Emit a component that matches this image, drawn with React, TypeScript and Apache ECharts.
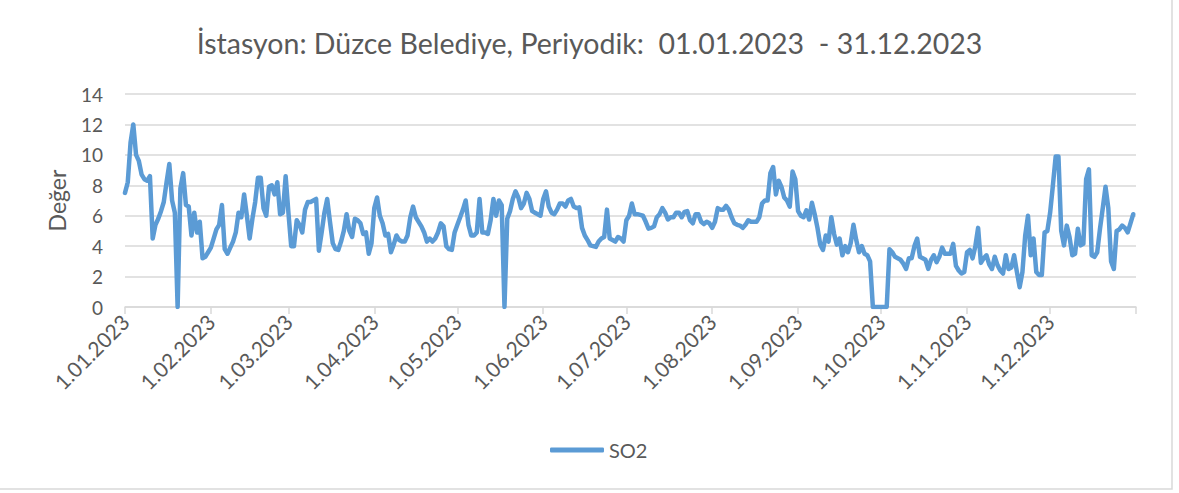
import { useEffect, useRef } from "react";
import * as echarts from "echarts";

const TITLE = "İstasyon: Düzce Belediye, Periyodik:  01.01.2023  - 31.12.2023";
const SERIES_NAME = "SO2";
const Y_NAME = "Değer";
const Y_MIN = 0;
const Y_MAX = 14;
const Y_INTERVAL = 2;

// Daily SO2 values, one array per month
const jan = [7.5, 8.2, 10.8, 12.0, 10.0, 9.6, 8.7, 8.4, 8.3, 8.6, 4.5, 5.4, 5.8, 6.3, 6.9, 8.2, 9.4, 7.0, 6.2, 0, 7.8, 8.8, 6.7, 6.6, 4.7, 6.2, 4.9, 5.6, 3.2, 3.3, 3.6];
const feb = [3.9, 4.5, 5.1, 5.4, 6.7, 3.8, 3.5, 3.9, 4.3, 4.9, 6.2, 5.9, 7.4, 6.0, 4.5, 5.8, 6.9, 8.5, 8.5, 6.5, 6.0, 7.9, 8.0, 7.4, 8.2, 6.1, 6.2, 8.6];
const mar = [6.2, 4.0, 4.0, 5.7, 5.4, 4.9, 6.4, 6.9, 6.9, 7.0, 7.1, 3.7, 4.9, 6.2, 7.1, 5.6, 4.2, 3.8, 3.75, 4.3, 5.0, 6.1, 5.0, 4.6, 5.8, 5.7, 5.5, 4.8, 4.9, 3.5, 4.2];
const apr = [6.5, 7.2, 6.0, 5.5, 4.7, 4.8, 3.6, 4.1, 4.7, 4.4, 4.3, 4.3, 4.7, 5.9, 6.6, 5.9, 5.6, 5.3, 4.9, 4.3, 4.5, 4.3, 4.5, 4.9, 5.5, 5.3, 4.0, 3.8, 3.75, 4.9];
const may = [5.4, 5.9, 6.4, 7.0, 5.4, 4.7, 4.7, 4.9, 7.1, 4.9, 4.9, 4.8, 5.7, 7.1, 6.0, 7.0, 6.7, 0, 5.8, 6.3, 7.1, 7.6, 7.2, 6.5, 6.8, 7.5, 7.1, 6.3, 6.2, 6.1, 6.0];
const jun = [7.1, 7.6, 6.6, 6.2, 6.1, 6.4, 6.8, 6.8, 6.6, 7.0, 7.1, 6.6, 6.5, 6.55, 5.2, 4.7, 4.4, 4.05, 4.0, 3.95, 4.3, 4.5, 4.6, 6.4, 4.5, 4.4, 4.3, 4.6, 4.5, 4.3];
const jul = [5.7, 6.0, 6.8, 6.1, 6.1, 6.05, 6.0, 5.6, 5.15, 5.2, 5.3, 5.9, 6.1, 6.5, 6.2, 5.75, 5.9, 5.9, 6.2, 6.2, 5.9, 6.25, 6.3, 5.7, 5.5, 6.1, 6.1, 5.6, 5.45, 5.6, 5.5];
const aug = [5.2, 5.6, 6.5, 6.4, 6.4, 6.65, 6.4, 5.9, 5.5, 5.4, 5.35, 5.2, 5.4, 5.7, 5.6, 5.6, 5.6, 5.9, 6.8, 7.0, 7.0, 8.8, 9.2, 7.4, 8.3, 7.9, 7.2, 7.0, 6.6, 8.9, 8.4];
const sep = [6.3, 6.0, 5.9, 6.35, 5.75, 6.85, 6.1, 5.2, 4.1, 3.75, 4.7, 4.3, 5.9, 4.8, 4.1, 4.5, 3.4, 4.0, 3.6, 4.2, 5.4, 4.4, 3.6, 4.0, 3.5, 3.4, 3.0, 0, 0, 0];
const oct = [0, 0, 0, 3.8, 3.6, 3.3, 3.2, 3.1, 2.85, 2.5, 3.2, 3.2, 4.0, 4.5, 3.3, 3.2, 3.1, 2.5, 3.1, 3.4, 2.95, 3.3, 3.9, 3.5, 3.5, 3.5, 4.15, 2.7, 2.4, 2.2, 2.3];
const nov = [3.6, 3.75, 3.2, 4.0, 5.2, 2.9, 3.2, 3.4, 2.8, 2.5, 3.3, 2.75, 2.4, 2.2, 3.4, 2.5, 2.6, 3.4, 2.3, 1.3, 2.3, 4.7, 6.0, 3.4, 4.5, 2.3, 2.1, 2.1, 4.9, 5.0];
const dec = [6.2, 8.0, 9.9, 9.9, 5.0, 4.05, 5.35, 4.6, 3.4, 3.5, 5.15, 4.05, 4.15, 8.4, 9.05, 3.4, 3.3, 3.6, 5.15, 6.5, 7.9, 6.5, 3.0, 2.5, 5.0, 5.1, 5.35, 5.2, 4.9, 5.5, 6.1];

const so2: (number | null)[] = [...jan, ...feb, ...mar, ...apr, ...may, ...jun, ...jul, ...aug, ...sep, ...oct, ...nov, ...dec];

// Date categories from 1.01.2023 to 1.01.2024 (axis end)
const START_YEAR = 2023;
const N_DAYS = 366;
const dates: string[] = [];
const dayOfMonth: number[] = [];
for (let i = 0; i < N_DAYS; i++) {
  const d = new Date(Date.UTC(START_YEAR, 0, 1 + i));
  dayOfMonth.push(d.getUTCDate());
  dates.push(`${d.getUTCDate()}.${String(d.getUTCMonth() + 1).padStart(2, "0")}.${d.getUTCFullYear()}`);
}
const seriesData = [...so2, null];

const FONT = "Lato, 'Open Sans', sans-serif";
const TEXT_COLOR = "#595959";
const GRID_COLOR = "#D9D9D9";
const LINE_COLOR = "#5B9BD5";

export default function App() {
  const ref = useRef<HTMLDivElement>(null);
  useEffect(() => {
    if (!ref.current) return;
    const chart = echarts.init(ref.current, undefined, { renderer: "svg" });
    chart.setOption({
      animation: false,
      backgroundColor: "#ffffff",
      textStyle: { fontFamily: FONT },
      title: {
        text: TITLE,
        left: "center",
        top: 23,
        textStyle: { fontFamily: FONT, fontSize: 28.5, fontWeight: "normal", color: TEXT_COLOR },
      },
      grid: { left: 125, right: 43, top: 94, bottom: 186, containLabel: false },
      legend: {
        bottom: 28,
        left: 545,
        icon: "roundRect",
        itemWidth: 54,
        itemHeight: 5,
        itemGap: 8,
        textStyle: { fontFamily: FONT, fontSize: 20, color: TEXT_COLOR, padding: [0, 0, 0, 0] },
        data: [SERIES_NAME],
      },
      xAxis: {
        type: "category",
        data: dates,
        boundaryGap: false,
        axisLine: { show: true, lineStyle: { color: GRID_COLOR, width: 1.5 } },
        axisTick: {
          show: true,
          length: 7,
          interval: (idx: number) => dayOfMonth[idx] === 1,
          lineStyle: { color: GRID_COLOR, width: 1.5 },
        },
        axisLabel: {
          interval: (idx: number) => dayOfMonth[idx] === 1 && idx < N_DAYS - 1,
          rotate: 45,
          margin: 11,
          fontFamily: FONT,
          fontSize: 21,
          color: TEXT_COLOR,
        },
        splitLine: { show: false },
      },
      yAxis: {
        type: "value",
        min: Y_MIN,
        max: Y_MAX,
        interval: Y_INTERVAL,
        name: Y_NAME,
        nameLocation: "middle",
        nameGap: 57,
        nameTextStyle: { fontFamily: FONT, fontSize: 23, color: TEXT_COLOR },
        axisLine: { show: false },
        axisTick: { show: false },
        axisLabel: { margin: 22, fontFamily: FONT, fontSize: 19, color: TEXT_COLOR },
        splitLine: { show: true, lineStyle: { color: GRID_COLOR, width: 1.5 } },
      },
      series: [
        {
          name: SERIES_NAME,
          type: "line",
          data: seriesData,
          showSymbol: false,
          symbol: "none",
          color: LINE_COLOR,
          lineStyle: { color: LINE_COLOR, width: 4.5, cap: "round", join: "round" },
        },
      ],
      graphic: [
        {
          type: "rect",
          shape: { x: -2, y: -2, width: 1174, height: 491 },
          style: { fill: "none", stroke: GRID_COLOR, lineWidth: 1.5 },
          silent: true,
        },
      ],
    });
    return () => chart.dispose();
  }, []);
  return (
    <div
      ref={ref}
      style={{ position: "absolute", left: 0, top: 0, width: 1179, height: 493 }}
    />
  );
}
